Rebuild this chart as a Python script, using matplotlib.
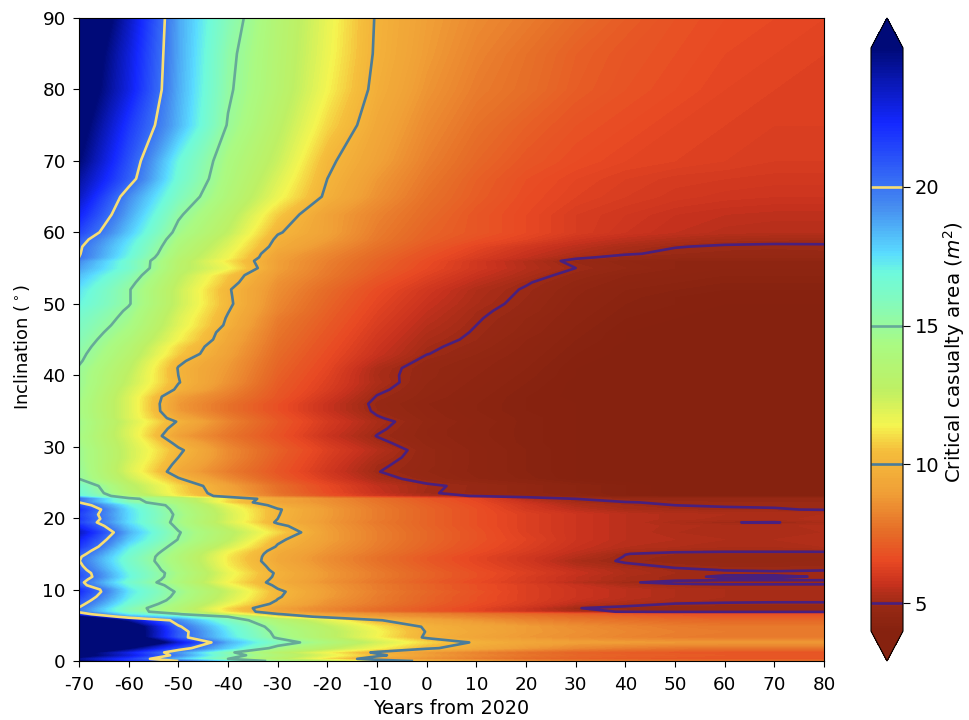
#!/usr/bin/python3

import matplotlib
matplotlib.use("Agg")
import matplotlib.pyplot as plt
from matplotlib.colors import LinearSegmentedColormap
import numpy as np

plt.rcParams['axes.unicode_minus'] = False

years = [-70, -60, -50, -40, -30, -20, -10, 0, 10, 20, 30, 40, 50, 60, 70, 80]
levels = [5, 10, 15, 20]
level_colors = ["#48207f", "#4a7c9a", "#66aa98", "#f8de72"]

# inclination of each row of area_rows, top of the plot first
inclinations = [
    90, 85, 80, 75, 70, 67.5, 65, 62.5, 60, 59, 58, 57, 56.5, 56, 55, 54, 53, 52, 51, 50, 49, 48, 47, 46,
    45, 44, 43, 42, 41, 40, 39, 38, 37, 36, 35, 34, 33.5, 32.5, 31.5, 30.5, 29.5,
    28.5, 27.5, 26.5, 25.5, 24.5, 23.5, 23.1,
    22.7, 22.2, 21.8, 21.2, 20.5, 19.9, 19.4, 18.9, 18, 17, 16, 15.4, 15, 14.6, 14,
    13.3, 12.75, 12.3, 11.8, 11.4, 11, 10.6, 10, 9.7, 9, 8.5, 8, 7.4, 6.9, 6.55, 6.2,
    5.7, 4.8, 4.1, 3.3, 2.6, 1.8, 1.2, 0.8, 0.3, 0,
]

# critical casualty area (m2), one row per inclination, one column per year
area_rows = [
    [28, 23.5, 18.7, 15.7, 13.5, 11.7, 9.9, 9, 8.4, 8, 7.5, 7.1, 6.8, 6.6, 6.5, 6.4],
    [27, 23, 18.7, 15.35, 13.4, 11.6, 9.85, 8.9, 8.2, 7.7, 7.2, 6.9, 6.7, 6.5, 6.4, 6.3],
    [26.5, 22.8, 18.6, 15.2, 13.3, 11.4, 9.7, 8.7, 8, 7.6, 7.1, 6.8, 6.6, 6.4, 6.3, 6.3],
    [25.8, 21.8, 18.4, 14.9, 12.9, 10.9, 9.4, 8.4, 7.7, 7.2, 6.8, 6.6, 6.4, 6.3, 6.2, 6.2],
    [25, 21, 16.9, 14.2, 12.4, 10.2, 9.1, 8.1, 7.4, 6.9, 6.6, 6.4, 6.3, 6.2, 6.1, 6.1],
    [24.2, 20.6, 16.6, 14, 12, 10, 8.8, 7.9, 7.2, 6.7, 6.4, 6.2, 6.05, 6, 5.95, 5.95],
    [23.5, 19.3, 16, 13.7, 11.6, 9.8, 8.6, 7.7, 7.1, 6.6, 6.3, 6.1, 5.95, 5.85, 5.8, 5.8],
    [22.5, 18.7, 15.2, 13.1, 10.7, 9.1, 8.2, 7.5, 6.9, 6.5, 6.1, 5.9, 5.7, 5.6, 5.55, 5.55],
    [21.4, 18, 14.6, 12.6, 10.1, 9.1, 8, 7.3, 6.9, 6.5, 6.1, 5.8, 5.6, 5.45, 5.4, 5.4],
    [20.6, 17.5, 14.2, 12.2, 9.8, 8.9, 7.9, 7.2, 6.7, 6.3, 5.8, 5.5, 5.3, 5.15, 5.12, 5.1],
    [20.2, 17.2, 13.9, 11.9, 9.6, 8.6, 7.7, 7, 6.4, 5.9, 5.5, 5.2, 5.02, 4.95, 4.93, 4.95],
    [20.1, 17, 13.6, 11.6, 9.2, 8.3, 7.5, 6.8, 6.2, 5.7, 5.3, 5.05, 4.9, 4.85, 4.82, 4.85],
    [20, 16.8, 13.4, 11.5, 9.1, 8.2, 7.4, 6.7, 6.1, 5.6, 5.1, 4.85, 4.75, 4.7, 4.7, 4.7],
    [19.3, 16.4, 13.2, 11.1, 9, 8.1, 7.3, 6.6, 5.9, 5.35, 4.85, 4.6, 4.5, 4.5, 4.5, 4.5],
    [18.8, 16.4, 13.1, 11.5, 9, 8, 7.2, 6.5, 5.9, 5.4, 5, 4.7, 4.5, 4.4, 4.4, 4.4],
    [18.2, 15.8, 12.8, 10.6, 8.8, 7.9, 7, 6.3, 5.7, 5.25, 4.8, 4.5, 4.4, 4.3, 4.3, 4.3],
    [17.8, 15.4, 12.6, 10.4, 8.6, 7.7, 6.8, 6.1, 5.5, 5.05, 4.65, 4.4, 4.3, 4.2, 4.2, 4.2],
    [17.4, 15.1, 12.4, 10.1, 8.5, 7.5, 6.6, 5.9, 5.3, 4.95, 4.55, 4.3, 4.2, 4.1, 4.1, 4.1],
    [17.2, 15.1, 12.4, 10.15, 8.4, 7.4, 6.5, 5.8, 5.25, 4.9, 4.5, 4.25, 4.1, 4.05, 4.05, 4.05],
    [17, 15.1, 12.4, 10.2, 8.3, 7.3, 6.4, 5.7, 5.2, 4.85, 4.45, 4.2, 4.1, 4, 4, 4],
    [16.6, 14.8, 12.2, 10.05, 8.2, 7.2, 6.3, 5.6, 5.1, 4.8, 4.4, 4.15, 4.05, 3.95, 3.95, 3.95],
    [16.3, 14.6, 12, 9.9, 8, 7.1, 6.2, 5.5, 5.05, 4.7, 4.35, 4.1, 4, 3.9, 3.9, 3.9],
    [16.1, 14.4, 11.9, 9.8, 7.9, 7, 6.1, 5.4, 5, 4.65, 4.3, 4.05, 3.95, 3.9, 3.9, 3.9],
    [15.9, 14.1, 11.6, 9.5, 7.8, 6.9, 6, 5.3, 4.95, 4.6, 4.25, 4, 3.9, 3.85, 3.85, 3.85],
    [15.7, 13.8, 11.4, 9.4, 7.7, 6.8, 5.9, 5.2, 4.9, 4.5, 4.2, 4, 3.9, 3.85, 3.85, 3.85],
    [15.5, 13.5, 10.9, 9.2, 7.6, 6.7, 5.8, 5.1, 4.8, 4.45, 4.15, 3.95, 3.9, 3.85, 3.85, 3.85],
    [15.3, 13.3, 10.7, 9.1, 7.5, 6.6, 5.7, 5.02, 4.7, 4.4, 4.1, 3.95, 3.85, 3.8, 3.8, 3.8],
    [15.15, 13, 10.2, 8.9, 7.4, 6.5, 5.5, 4.85, 4.6, 4.35, 4.05, 3.9, 3.85, 3.8, 3.8, 3.8],
    [14.9, 12.8, 9.95, 8.8, 7.3, 6.4, 5.25, 4.75, 4.55, 4.3, 4, 3.9, 3.85, 3.8, 3.8, 3.8],
    [14.8, 12.6, 10, 8.7, 7.2, 6.3, 5.2, 4.75, 4.5, 4.25, 4, 3.9, 3.85, 3.8, 3.8, 3.8],
    [14.8, 12.5, 10.05, 8.6, 7.1, 6.2, 5.25, 4.7, 4.45, 4.2, 3.95, 3.9, 3.85, 3.8, 3.8, 3.8],
    [14.7, 12.2, 9.8, 8.3, 7, 6.1, 5.12, 4.65, 4.4, 4.15, 3.95, 3.9, 3.85, 3.8, 3.8, 3.8],
    [14.6, 12, 9, 8, 6.9, 5.9, 4.97, 4.6, 4.35, 4.1, 3.95, 3.9, 3.85, 3.8, 3.8, 3.8],
    [14.4, 12, 8.8, 7.7, 6.7, 5.7, 4.85, 4.5, 4.3, 4.1, 4, 3.9, 3.85, 3.8, 3.8, 3.8],
    [14.4, 12, 8.85, 7.7, 6.7, 5.7, 4.9, 4.55, 4.3, 4.1, 4, 3.9, 3.85, 3.8, 3.8, 3.8],
    [14.5, 12, 9.4, 8, 6.9, 5.9, 5.06, 4.6, 4.35, 4.15, 4, 3.9, 3.85, 3.8, 3.8, 3.8],
    [14.6, 12.2, 9.9, 8.2, 7, 6, 5.2, 4.65, 4.4, 4.15, 4, 3.9, 3.85, 3.8, 3.8, 3.8],
    [14.6, 12, 9.45, 8, 6.9, 5.9, 5.1, 4.6, 4.35, 4.15, 4, 3.9, 3.85, 3.8, 3.8, 3.8],
    [14.4, 12, 9, 7.8, 6.8, 5.75, 4.98, 4.6, 4.35, 4.15, 4, 3.9, 3.85, 3.8, 3.8, 3.8],
    [14.5, 12.2, 9.7, 8.1, 7, 6, 5.15, 4.65, 4.4, 4.15, 4, 3.9, 3.85, 3.8, 3.8, 3.8],
    [14.7, 12.3, 10.2, 8.4, 7.2, 6.2, 5.4, 4.75, 4.45, 4.2, 4, 3.9, 3.85, 3.8, 3.8, 3.8],
    [14.7, 12.3, 10, 8.4, 7.1, 6.1, 5.25, 4.75, 4.45, 4.2, 4, 3.9, 3.85, 3.8, 3.8, 3.8],
    [14.8, 12.1, 9.7, 8.2, 7, 6, 5.1, 4.75, 4.45, 4.2, 4, 3.9, 3.85, 3.8, 3.8, 3.8],
    [14.9, 12, 9.4, 8, 6.9, 5.9, 5.02, 4.7, 4.45, 4.2, 4, 3.9, 3.85, 3.8, 3.8, 3.8],
    [15, 12.4, 10.1, 8.4, 7.1, 6.1, 5.2, 4.8, 4.5, 4.25, 4, 3.9, 3.85, 3.8, 3.8, 3.8],
    [16.3, 13, 10.9, 9.1, 7.6, 6.5, 5.6, 5.1, 4.85, 4.6, 4.3, 4.1, 3.9, 3.9, 3.9, 3.9],
    [16.7, 13.3, 11, 9.3, 7.7, 6.6, 5.7, 5.05, 4.85, 4.6, 4.3, 4.1, 3.9, 3.9, 3.9, 3.9],
    [17, 13.9, 11.2, 9.5, 7.9, 6.8, 5.9, 5.3, 4.95, 4.7, 4.4, 4.1, 3.95, 3.9, 3.9, 3.9],
    [20, 15.4, 13.6, 11, 9.3, 8.5, 7.7, 7, 6.4, 5.4, 5, 4.85, 4.8, 4.8, 4.8, 4.8],
    [20, 15.6, 13.9, 10.8, 9.2, 8.6, 7.8, 7.1, 6.5, 5.7, 5.1, 5.02, 4.95, 4.9, 4.9, 4.9],
    [21, 17, 14.3, 11.6, 9.6, 8.7, 7.9, 7.2, 6.6, 5.9, 5.3, 5.1, 5, 4.97, 4.97, 4.97],
    [22, 17.5, 14.5, 12, 10.1, 8.9, 8, 7.3, 6.7, 6, 5.5, 5.2, 5.1, 5.05, 5.02, 4.98],
    [21.5, 17.6, 14.7, 12.2, 10.05, 8.9, 8, 7.3, 6.7, 6.2, 5.8, 5.5, 5.35, 5.3, 5.3, 5.3],
    [21.8, 17.6, 14.6, 12.2, 10, 8.85, 8, 7.3, 6.7, 6.2, 5.8, 5.5, 5.35, 5.25, 5.25, 5.35],
    [21.4, 17.5, 14.5, 12, 9.85, 8.8, 7.9, 7.3, 6.7, 6.2, 5.8, 5.5, 5.2, 5.01, 4.98, 5.15],
    [22.2, 17.9, 14.7, 12.4, 10.3, 8.9, 8, 7.3, 6.7, 6.2, 5.8, 5.5, 5.35, 5.25, 5.25, 5.35],
    [23.5, 18.5, 15.1, 13, 10.9, 9, 8.1, 7.4, 6.8, 6.2, 5.8, 5.5, 5.3, 5.25, 5.25, 5.3],
    [22.5, 18, 14.95, 12.8, 10.2, 9, 8.1, 7.4, 6.8, 6.3, 5.8, 5.5, 5.4, 5.3, 5.3, 5.4],
    [21.8, 17.2, 14.4, 12.1, 9.9, 8.8, 8, 7.3, 6.7, 6.2, 5.7, 5.4, 5.3, 5.2, 5.2, 5.3],
    [21, 16.8, 14.1, 11.5, 9.6, 8.7, 7.9, 7.2, 6.6, 6.1, 5.6, 5.2, 5.08, 5.05, 5.05, 5.05],
    [20.6, 16.6, 13.9, 11.3, 9.5, 8.6, 7.8, 7.1, 6.5, 6, 5.5, 5.01, 4.9, 4.88, 4.88, 4.88],
    [20.2, 16.4, 13.8, 11.2, 9.45, 8.5, 7.7, 7, 6.4, 5.9, 5.4, 4.98, 4.85, 4.8, 4.8, 4.8],
    [20.05, 16.3, 13.8, 11.2, 9.4, 8.5, 7.7, 7, 6.4, 5.9, 5.2, 4.95, 4.8, 4.75, 4.75, 4.8],
    [20.3, 16.5, 14, 11.3, 9.6, 8.6, 7.8, 7.1, 6.5, 6, 5.4, 5.08, 4.95, 4.85, 4.85, 4.9],
    [20.6, 16.7, 14.1, 11.5, 9.7, 8.7, 7.9, 7.2, 6.6, 6.1, 5.6, 5.25, 5.05, 4.99, 4.98, 4.99],
    [21, 16.9, 14.3, 11.7, 9.85, 8.8, 8, 7.3, 6.7, 6.2, 5.7, 5.3, 5.1, 5.05, 5.03, 5.05],
    [21.1, 17, 14.2, 11.6, 9.8, 8.8, 8, 7.3, 6.7, 6.1, 5.6, 5.2, 5.05, 4.97, 4.98, 5.01],
    [20.7, 16.7, 14.1, 11.5, 9.7, 8.7, 7.9, 7.2, 6.6, 6.1, 5.6, 5.2, 5.05, 5.03, 5.03, 5.03],
    [20.4, 16.4, 13.9, 11.3, 9.6, 8.6, 7.8, 7.1, 6.5, 6, 5.4, 5.03, 4.93, 4.9, 4.9, 4.9],
    [20.6, 16.8, 14.3, 11.6, 9.8, 8.8, 8, 7.3, 6.7, 6.2, 5.7, 5.25, 5.08, 5.05, 5.05, 5.05],
    [22, 17.3, 14.6, 12.2, 10.05, 8.9, 8, 7.3, 6.7, 6.2, 5.8, 5.5, 5.3, 5.2, 5.2, 5.2],
    [22.1, 17.4, 14.8, 12.4, 10.2, 8.95, 8.1, 7.4, 6.8, 6.2, 5.8, 5.5, 5.3, 5.2, 5.2, 5.2],
    [21.5, 17.2, 14.6, 12.2, 10.1, 8.9, 8, 7.3, 6.7, 6.2, 5.8, 5.5, 5.3, 5.2, 5.15, 5.15],
    [21, 16.9, 14.4, 12, 9.95, 8.7, 8, 7.3, 6.7, 6.2, 5.7, 5.4, 5.25, 5.15, 5.1, 5.1],
    [20.5, 16.5, 14, 11.6, 9.7, 8.6, 7.9, 7.2, 6.6, 6.1, 5.5, 5.2, 4.98, 4.93, 4.92, 4.92],
    [19.9, 15.8, 13.6, 10.9, 9.1, 8.3, 7.6, 7, 6.4, 5.8, 5.02, 4.85, 4.8, 4.8, 4.8, 4.8],
    [19.7, 15.9, 13.7, 11, 9.2, 8.3, 7.6, 7, 6.4, 5.8, 5.2, 4.95, 4.85, 4.85, 4.85, 4.85],
    [21, 17, 15.2, 12, 10.1, 9, 8.6, 8.2, 7.8, 7.4, 7.1, 6.9, 6.8, 6.7, 6.7, 6.7],
    [25, 18.5, 17, 15, 11.1, 9.55, 8.9, 8.5, 8.1, 7.8, 7.5, 7.3, 7.1, 7, 7, 7],
    [28, 24, 19.2, 16, 13.6, 11.8, 10.1, 9.2, 8.7, 8.2, 7.9, 7.7, 7.5, 7.4, 7.4, 7.4],
    [29, 27, 20.2, 17, 14.3, 12.7, 11.2, 9.85, 9.3, 8.9, 8.5, 8.2, 8, 7.9, 7.9, 7.9],
    [29, 27, 20.7, 17.3, 14.6, 13, 11.5, 9.95, 9.4, 8.9, 8.6, 8.3, 8.1, 8, 8, 8],
    [29, 27, 20.6, 17.5, 14.8, 13, 11.4, 9.85, 9.2, 8.8, 8.5, 8.2, 8, 7.9, 7.9, 7.9],
    [30, 30, 23, 18.5, 15.9, 13.9, 12.2, 10.9, 9.85, 9.3, 9, 8.9, 8.8, 8.8, 8.8, 8.8],
    [28, 25, 20.8, 17.8, 14.4, 12.8, 11.4, 10.2, 9.4, 8.8, 8.3, 8, 7.8, 7.7, 7.7, 7.7],
    [26, 22.5, 19, 15.3, 13, 11.3, 9.8, 8.8, 8.1, 7.6, 7.2, 7, 6.9, 6.8, 6.8, 6.8],
    [26, 23, 19.4, 15.8, 13.6, 11.8, 10.25, 9, 8.3, 7.8, 7.4, 7.2, 7.1, 7, 7, 7],
    [24, 21.5, 18, 15, 12.9, 10.9, 9.4, 8.6, 8, 7.5, 7.2, 7, 6.9, 6.8, 6.8, 6.8],
    [25, 22, 20, 17, 14.4, 12.4, 10.8, 9.7, 9, 8.4, 8, 7.8, 7.7, 7.6, 7.6, 7.6],
]

# colormap stops (value, colour)
cmap_values = [4, 4.9, 5.7, 6.5, 7.6, 9, 10.5, 11.4, 12.7, 14.3, 15.9, 16.9, 17.6, 19.3, 22.3, 25]
cmap_colors = ["#86220f", "#982914", "#c8321e", "#e84823", "#e66e28", "#f0a037", "#f5be3c", "#f5f550",
               "#bef064", "#aafa82", "#82fabe", "#6efadc", "#5adcff", "#468cf0", "#1428ff", "#000a78"]

x = np.array(years)
y = np.array(inclinations)[::-1]
z = np.array(area_rows)[::-1]

stops = [(v - 4) / 21 for v in cmap_values]
cmap = LinearSegmentedColormap.from_list("area", list(zip(stops, cmap_colors)), N=512)
cmap.set_under("#86220f")
cmap.set_over("#000a78")

fig = plt.figure(figsize=(9.7, 7.2), dpi=100)
ax = fig.add_axes([79 / 970, 1 - 661 / 720, 745 / 970, 643 / 720])

fill = ax.contourf(x, y, z, levels=np.linspace(4, 25, 211), cmap=cmap, extend="both", antialiased=False)
lines = ax.contour(x, y, z, levels=levels, colors=level_colors, linewidths=1.9)

ax.set_xlim(-70, 80)
ax.set_ylim(0, 90)
ax.set_xticks(range(-70, 81, 10))
ax.set_yticks(range(0, 91, 10))
ax.tick_params(labelsize=13.2, length=4.5)
ax.tick_params(axis='x', pad=6)
ax.tick_params(axis='y', pad=5)
ax.set_xlabel("Years from 2020", fontsize=13.8, labelpad=4)
ax.set_ylabel("Inclination ($^\\circ$)", fontsize=12.9)
ax.yaxis.set_label_coords(-0.063, 0.489)

cax = fig.add_axes([871 / 970, 1 - 661 / 720, 32 / 970, 643 / 720])
cbar = fig.colorbar(fill, cax=cax, extend="both", extendfrac=30 / 585, ticks=levels)
cbar.add_lines(lines)
cbar.ax.tick_params(labelsize=14, length=5)
cbar.set_label("Critical casualty area ($m^2$)", fontsize=14.3)
cbar.ax.yaxis.set_label_coords(2.2, 0.479)

fig.savefig("out.png", dpi=100)
